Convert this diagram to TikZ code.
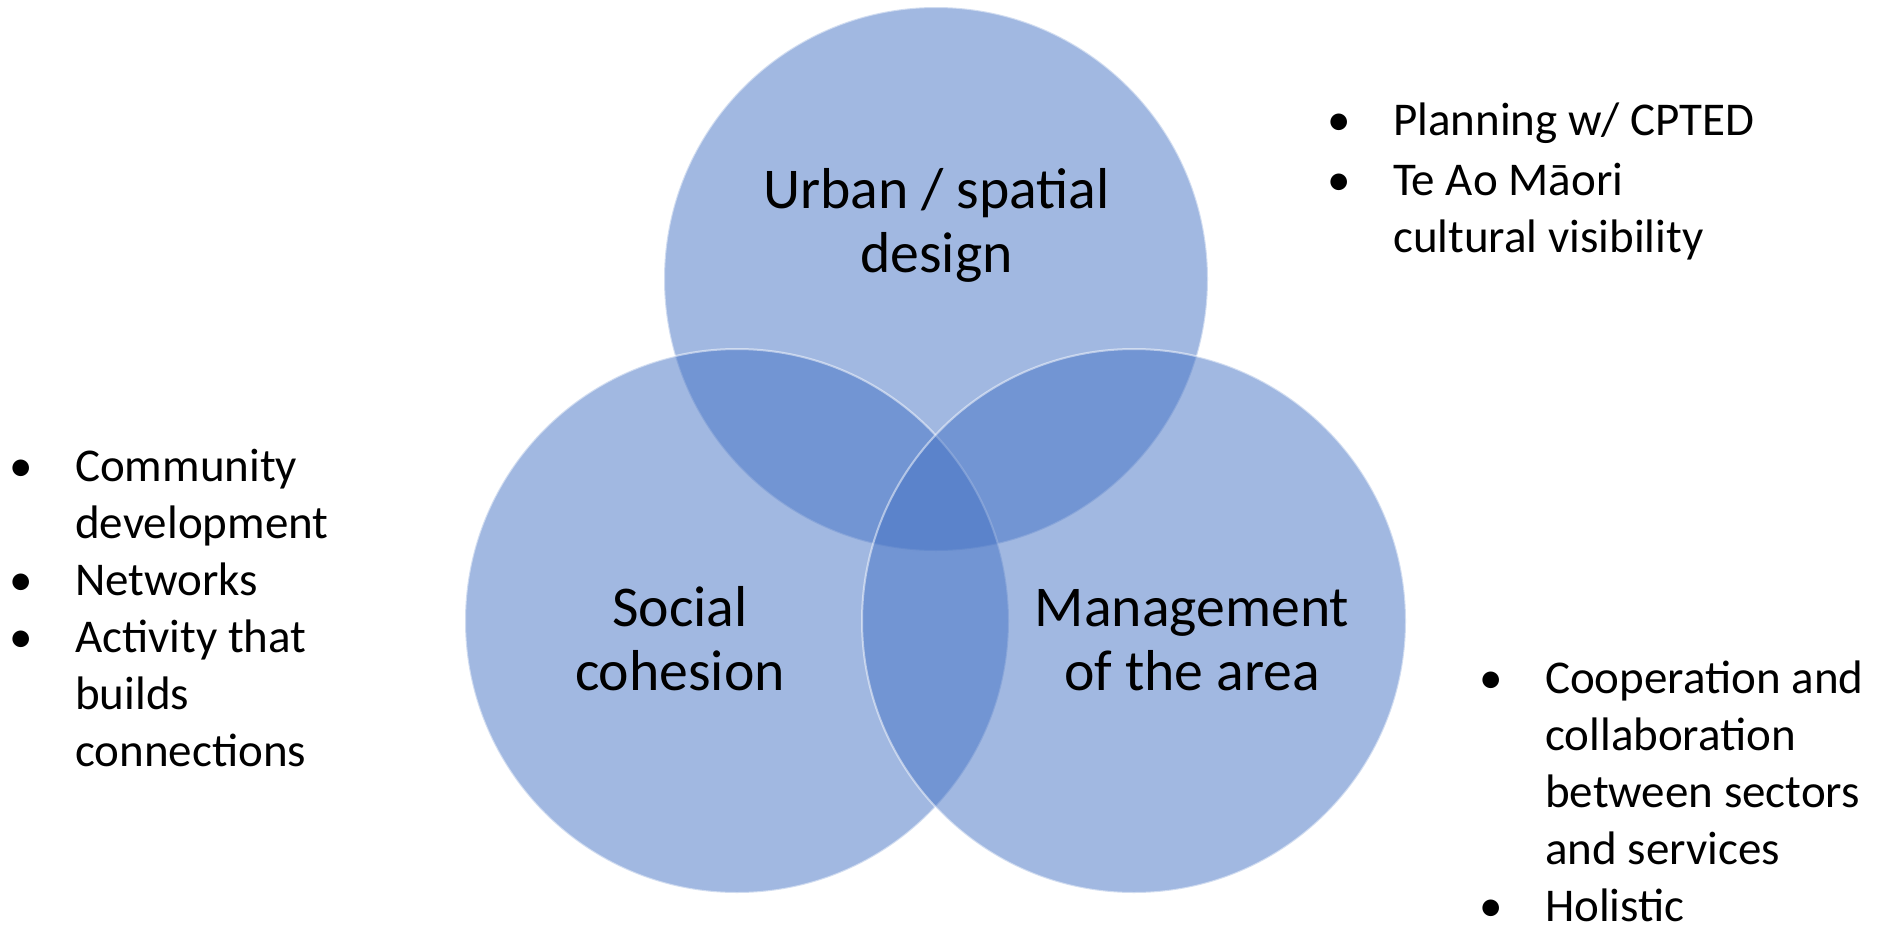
\documentclass[tikz,border=0pt]{standalone}
\usepackage{fontspec}
\setmainfont{Carlito}
\definecolor{vennblue}{HTML}{4472C4}
\newcommand{\itembullet}{\makebox[40pt]{\textbullet}\hspace*{34pt}}

\begin{document}
\begin{tikzpicture}[
  x=1pt, y=-1pt,
  venn/.style={circle, draw=white, line width=2pt, fill=vennblue, opacity=0.5, minimum size=544pt, inner sep=0pt},
  title/.style={align=center, anchor=base, inner sep=0pt, font=\fontsize{57.7}{64}\selectfont},
  points/.style={anchor=base west, inner sep=0pt, font=\fontsize{47}{57}\selectfont}
]
\useasboundingbox (0,0) rectangle (1883,926);

% Circles
\node[venn] (urban) at (936,279) {};
\node[venn] (social) at (737,621) {};
\node[venn] (manage) at (1134,621) {};

% Circle titles (anchored on the last line)
\node[title] (urbanlbl) at (936.5,272.5) {Urban / spatial\\design};
\node[title] (sociallbl) at (680,690) {Social\\cohesion};
\node[title] (managelbl) at (1192,690) {Management\\of the area};

% Bullet lists
\node[points] (cptedlist) at (1319,135) {\begin{tabular}[t]{@{}l@{}l@{}}
  \itembullet & Planning w/ CPTED\\[3pt]
  \itembullet & Te Ao Māori\\
  & cultural visibility
\end{tabular}};
\node[points] (communitylist) at (1,481.7) {\begin{tabular}[t]{@{}l@{}l@{}}
  \itembullet & Community\\
  & development\\
  \itembullet & Networks\\
  \itembullet & Activity that\\
  & builds\\
  & connections
\end{tabular}};
\node[points] (sectorlist) at (1471,693) {\begin{tabular}[t]{@{}l@{}l@{}}
  \itembullet & Cooperation and\\
  & collaboration\\
  & between sectors\\
  & and services\\
  \itembullet & Holistic
\end{tabular}};

\end{tikzpicture}
\end{document}
